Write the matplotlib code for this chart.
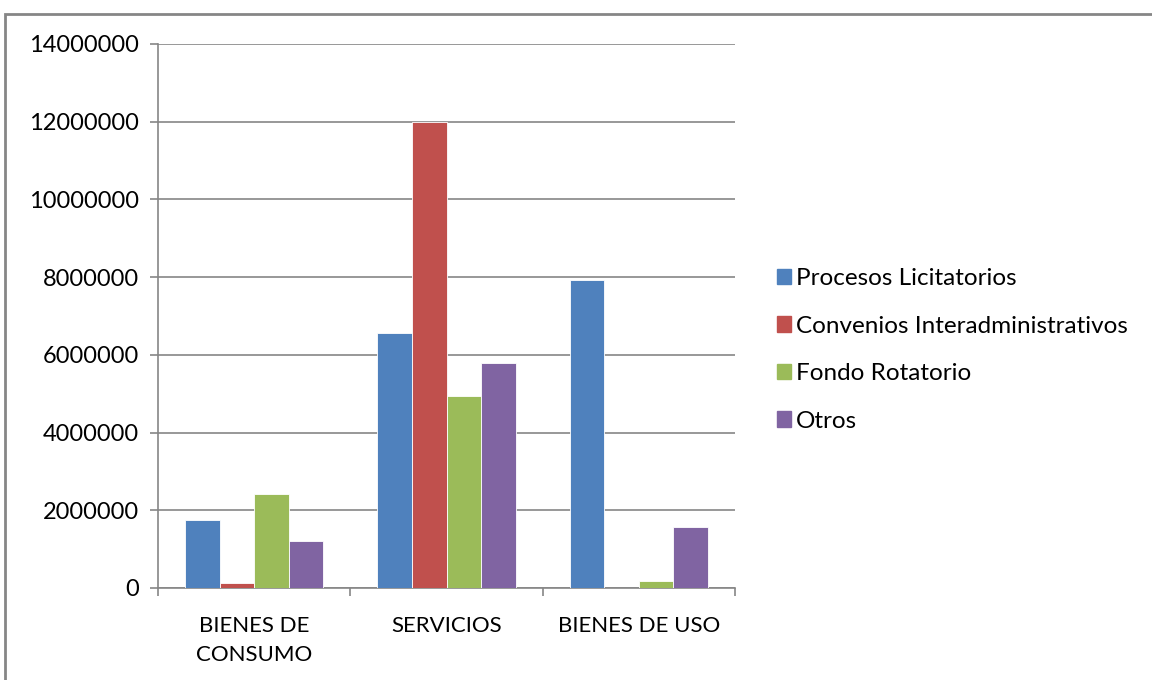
import numpy as np
import matplotlib
matplotlib.use("Agg")
import matplotlib.pyplot as plt
from matplotlib.patches import Rectangle
from matplotlib.ticker import FixedLocator, NullFormatter

categories = ["BIENES DE\nCONSUMO", "SERVICIOS", "BIENES DE USO"]
series_names = ["Procesos Licitatorios", "Convenios Interadministrativos",
                "Fondo Rotatorio", "Otros"]
procesos = [1760000, 6550000, 7930000]
convenios = [120000, 12000000, 0]
fondo = [2410000, 4930000, 170000]
otros = [1200000, 5780000, 1570000]
yticks = [0, 2000000, 4000000, 6000000, 8000000, 10000000, 12000000, 14000000]

colors = ["#4F81BD", "#C0504D", "#9BBB59", "#8064A2"]
gray = "#868686"

plt.rcParams['font.family'] = ['Lato', 'DejaVu Sans']

fig = plt.figure(figsize=(11.52, 6.8), dpi=100)
# outer chart frame (cut off at right/bottom like the screenshot)
fig.patches.append(Rectangle((5/1152, -0.1), 1.2, 1-14/680+0.1, transform=fig.transFigure,
                             fill=False, edgecolor=gray, linewidth=2))

ax = fig.add_axes([158/1152, 1-588/680, 577/1152, 544/680])
x = np.arange(len(categories))
w = 0.18
for i, vals in enumerate([procesos, convenios, fondo, otros]):
    ax.bar(x + (i-1.5)*w, vals, w, color=colors[i], edgecolor="white", linewidth=0.6,
           label=series_names[i], zorder=3)

ax.set_xlim(-0.5, 2.5)
ax.set_ylim(0, 14000000)
ax.set_yticks(yticks)
ax.set_yticklabels([str(v) for v in yticks], fontsize=17)
ax.grid(axis='y', color=gray, linewidth=1.2, zorder=0)
ax.set_xticks(x)
ax.set_xticklabels(categories, fontsize=16, linespacing=1.6)
ax.xaxis.set_minor_locator(FixedLocator([-0.5, 0.5, 1.5, 2.5]))
ax.xaxis.set_minor_formatter(NullFormatter())
ax.tick_params(axis='x', which='major', length=0, pad=20)
ax.tick_params(axis='x', which='minor', length=6, color=gray, width=1.2)
ax.tick_params(axis='y', length=6, color=gray, width=1.2, pad=8)
for s in ['top', 'right']:
    ax.spines[s].set_visible(False)
ax.spines['left'].set_color(gray)
ax.spines['bottom'].set_color(gray)
ax.spines['left'].set_linewidth(1.2)
ax.spines['bottom'].set_linewidth(1.2)

handles = [Rectangle((0, 0), 1, 1, color=c) for c in colors]
fig.legend(handles, series_names, loc='center left', bbox_to_anchor=(755/1152, 1-350/680),
           frameon=False, fontsize=17.5, handlelength=0.6, handleheight=0.6,
           handletextpad=0.2, labelspacing=1.09)

fig.savefig("out.png", dpi=100)
